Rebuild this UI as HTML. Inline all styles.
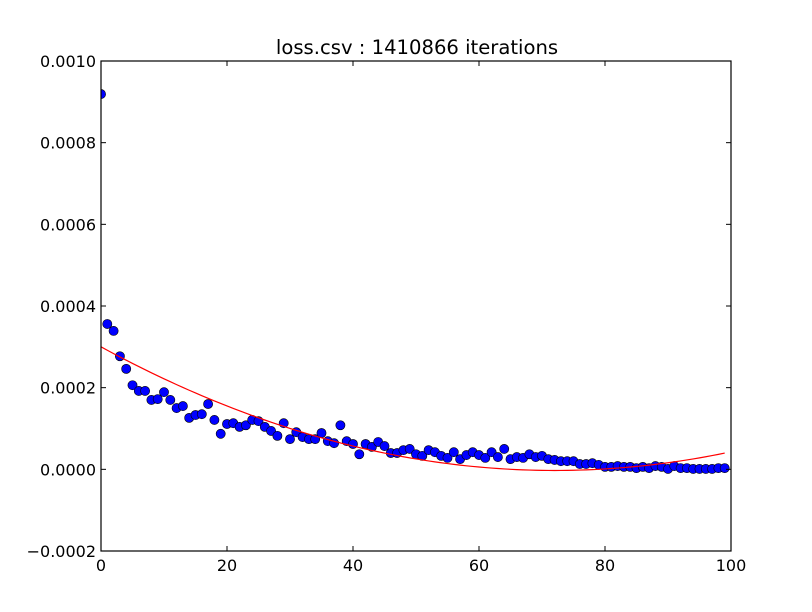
<!DOCTYPE html>
<html><head><meta charset="utf-8"><style>
html,body{margin:0;padding:0;background:#fff;}
svg{display:block;font-family:"DejaVu Sans","Liberation Sans",sans-serif;}
</style></head><body>
<svg id="chart" width="812" height="612" viewBox="0 0 812 612">
<rect x="0" y="0" width="812" height="612" fill="#fff"/>
<defs><clipPath id="clip"><rect x="101" y="61" width="630" height="490"/></clipPath></defs>
<text x="417" y="54" font-size="19.6" text-anchor="middle">loss.csv : 1410866 iterations</text>
<g id="plot" clip-path="url(#clip)"></g>
<g id="axes"></g>
</svg>
<script>
const xTicks=[0,20,40,60,80,100];
const yTicks=[-0.0002,0,0.0002,0.0004,0.0006,0.0008,0.0010];
const yTickLabels=["\u22120.0002","0.0000","0.0002","0.0004","0.0006","0.0008","0.0010"];
const lossValues=[9.19,3.56,3.39,2.77,2.46,2.06,1.92,1.92,1.70,1.72,1.89,1.70,1.50,1.55,1.26,1.33,1.35,1.60,1.21,0.87,1.11,1.13,1.04,1.08,1.21,1.18,1.04,0.94,0.82,1.13,0.74,0.91,0.79,0.74,0.74,0.89,0.69,0.64,1.08,0.69,0.62,0.37,0.62,0.55,0.67,0.57,0.40,0.40,0.47,0.50,0.37,0.33,0.47,0.42,0.33,0.28,0.42,0.25,0.35,0.42,0.35,0.28,0.42,0.30,0.50,0.25,0.30,0.28,0.37,0.30,0.33,0.25,0.23,0.20,0.20,0.20,0.13,0.13,0.15,0.11,0.06,0.06,0.08,0.06,0.06,0.03,0.06,0.03,0.08,0.06,0.01,0.08,0.03,0.03,0.01,0.01,0.01,0.01,0.03,0.03].map(v=>v*1e-4);
const fitCoeffs=[3.0e-4,-8.41e-6,5.84e-8]; // a + b x + c x^2
const X0=101,X1=731,Y0=551,Y1=61;
const xs=v=>X0+(v-0)/(100-0)*(X1-X0);
const ys=v=>Y0-(v-(-0.0002))/(0.0010-(-0.0002))*(Y0-Y1);
const NS="http://www.w3.org/2000/svg";
const plot=document.getElementById('plot'),axes=document.getElementById('axes');
function mk(tag,attrs,parent){const e=document.createElementNS(NS,tag);for(const k in attrs)e.setAttribute(k,attrs[k]);parent.appendChild(e);return e;}
lossValues.forEach((v,i)=>{
  const c=mk('circle',{cx:xs(i),cy:ys(v),r:4.6,fill:'#0000ff',stroke:'#000','stroke-width':0.6},plot);
  
  
});
let d='';
for(let i=0;i<=99;i++){const y=fitCoeffs[0]+fitCoeffs[1]*i+fitCoeffs[2]*i*i;d+=(i?'L':'M')+xs(i)+','+ys(y);}
const fl=mk('path',{d:d,fill:'none',stroke:'#ff0000','stroke-width':1.2},plot);


const fr=mk('rect',{x:X0,y:Y1,width:X1-X0,height:Y0-Y1,fill:'none',stroke:'#000','stroke-width':1.2},axes);


xTicks.forEach(t=>{
  const x=xs(t);
  mk('line',{x1:x,y1:Y0,x2:x,y2:Y0-5,stroke:'#000'},axes);
  mk('line',{x1:x,y1:Y1,x2:x,y2:Y1+5,stroke:'#000'},axes);
  const tx=mk('text',{x:x,y:571,'font-size':16,'text-anchor':'middle'},axes);
  tx.textContent=t;
  
  
});
yTicks.forEach((t,i)=>{
  const y=ys(t);
  mk('line',{x1:X0,y1:y,x2:X0+5,y2:y,stroke:'#000'},axes);
  mk('line',{x1:X1,y1:y,x2:X1-5,y2:y,stroke:'#000'},axes);
  const tx=mk('text',{x:96,y:y+6,'font-size':16,'text-anchor':'end'},axes);
  tx.textContent=yTickLabels[i];
  
  
});
</script>
</body></html>
